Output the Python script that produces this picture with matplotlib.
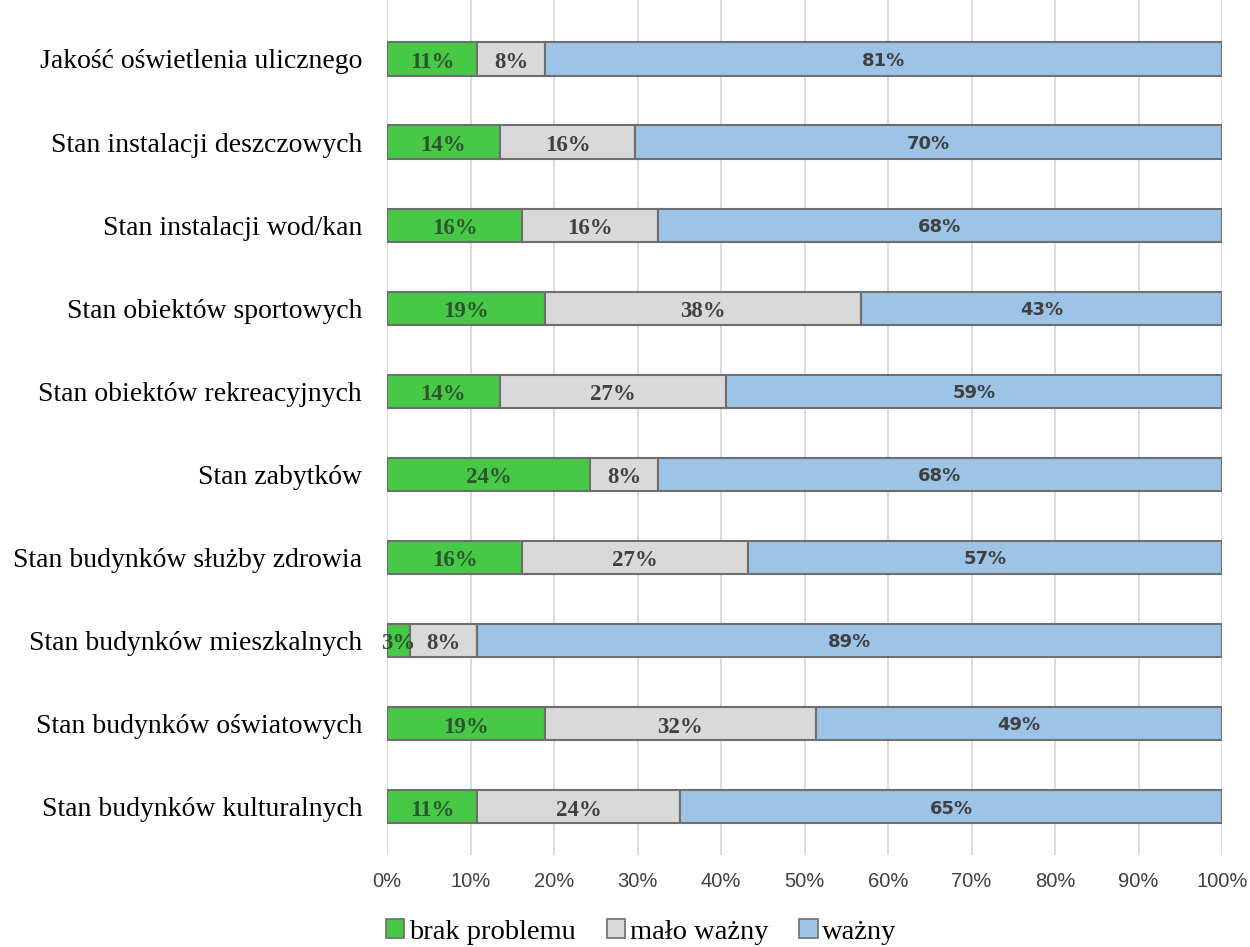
import matplotlib
matplotlib.use("Agg")
from matplotlib import pyplot as plt
from matplotlib.patches import Patch
import numpy as np

# kategorie od dołu do góry
kategorie = ["Stan budynków kulturalnych",
             "Stan budynków oświatowych",
             "Stan budynków mieszkalnych",
             "Stan budynków służby zdrowia",
             "Stan zabytków",
             "Stan obiektów rekreacyjnych",
             "Stan obiektów sportowych",
             "Stan instalacji wod/kan",
             "Stan instalacji deszczowych",
             "Jakość oświetlenia ulicznego"]

brak_problemu = [10.81, 18.92, 2.70, 16.22, 24.32, 13.51, 18.92, 16.22, 13.51, 10.81]
malo_wazny = [24.32, 32.43, 8.11, 27.03, 8.11, 27.03, 37.84, 16.22, 16.22, 8.11]
wazny = [64.86, 48.65, 89.19, 56.76, 67.57, 59.46, 43.24, 67.57, 70.27, 81.08]

nazwy = ["brak problemu", "mało ważny", "ważny"]
kolory = ["#47c947", "#d9d9d9", "#9dc3e6"]

fig = plt.figure(figsize=(12.5, 9.47), dpi=100)
ax = fig.add_axes([0.3096, 0.0971, 0.668, 0.9029])

y = np.arange(len(kategorie))
left = np.zeros(len(kategorie))
serie = [brak_problemu, malo_wazny, wazny]
for i, vals in enumerate(serie):
    vals = np.array(vals)
    ax.barh(y, vals, left=left, height=0.4, color=kolory[i],
            edgecolor="#6e6e6e", linewidth=1.5, zorder=3)
    for j in range(len(vals)):
        xc = left[j] + vals[j] / 2
        txt = str(int(round(vals[j]))) + "%"
        if i == 2:
            ax.text(xc, y[j] - 0.02, txt, ha="center", va="center", fontsize=13,
                    fontweight="bold", family="DejaVu Sans", color="#404040", zorder=4)
        else:
            c = "#2c552c" if i == 0 else "#404040"
            ax.text(xc, y[j] - 0.04, txt, ha="center", va="center", fontsize=16.5,
                    fontweight="bold", family="Liberation Serif", color=c, zorder=4)
    left = left + vals

ax.set_xlim(0, 100)
ax.set_ylim(-0.58, 9.71)
ax.set_xticks(np.arange(0, 101, 10))
ax.set_xticklabels([str(v) + "%" for v in range(0, 101, 10)],
                   fontsize=14.5, family="Liberation Sans", color="#404040")
ax.set_yticks(y)
ax.set_yticklabels(kategorie, fontsize=20, family="Liberation Serif", color="#000000")
ax.tick_params(axis="y", length=0, pad=18)
ax.tick_params(axis="x", length=0, pad=12)
ax.grid(axis="x", color="#d9d9d9", linewidth=1.3, zorder=0)
for s in ax.spines.values():
    s.set_visible(False)

uchwyty = [Patch(facecolor=kolory[k], edgecolor="#6e6e6e", linewidth=1.2, label=nazwy[k])
           for k in range(3)]
fig.legend(handles=uchwyty, loc="center", bbox_to_anchor=(0.513, 0.016), ncol=3,
           frameon=False, prop={"family": "Liberation Serif", "size": 20.5},
           handlelength=0.65, handleheight=0.65, handletextpad=0.15, columnspacing=1.1)

plt.savefig("out.png", dpi=100)
